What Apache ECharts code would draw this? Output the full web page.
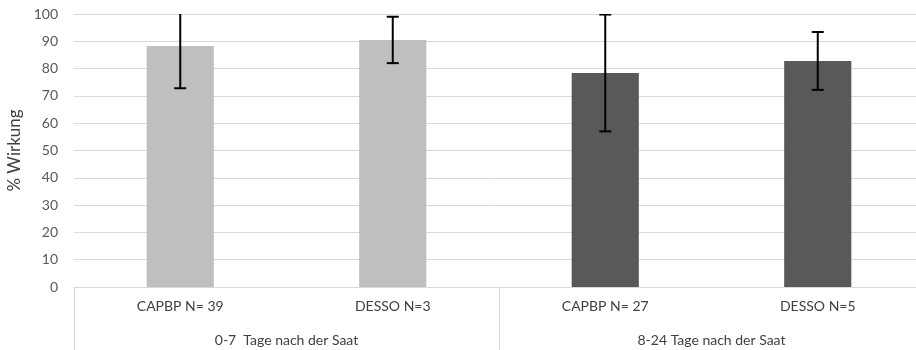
<!DOCTYPE html>
<html>
<head>
<meta charset="utf-8">
<script src="https://cdn.jsdelivr.net/npm/echarts@6/dist/echarts.min.js"></script>
<style>html,body{margin:0;padding:0;background:#fff;}#c{width:916px;height:350px;}</style>
</head>
<body>
<div id="c"></div>
<script>
const categories = ['CAPBP N= 39', 'DESSO N=3', 'CAPBP N= 27', 'DESSO N=5'];
const groups = ['0-7  Tage nach der Saat', '8-24 Tage nach der Saat'];
const groupOfCategory = [0, 0, 1, 1];
const values = [88.3, 90.5, 78.4, 82.8];
const errors = [15.5, 8.5, 21.4, 10.6];
const yTicks = { min: 0, max: 100, interval: 10 };
const axisName = '% Wirkung';

const groupColors = ['#bfbfbf', '#595959'];
const font = 'Lato, "Open Sans", sans-serif';

const chart = echarts.init(document.getElementById('c'));
chart.setOption({
  animation: false,
  grid: { left: 74, top: 14, width: 850, height: 273, containLabel: false, outerBoundsMode: 'none' },
  xAxis: [
    {
      type: 'category', data: categories, position: 'bottom',
      axisLine: { show: true, lineStyle: { color: '#d9d9d9', width: 1 } },
      axisTick: { show: false },
      axisLabel: { margin: 12, color: '#404040', fontSize: 14, fontFamily: font }
    },
    {
      type: 'category', data: groups, position: 'bottom', gridIndex: 0,
      axisLine: { show: false },
      axisTick: { show: true, length: 64, inside: false, lineStyle: { color: '#d9d9d9', width: 1 } },
      axisLabel: { margin: 46, color: '#404040', fontSize: 14, fontFamily: font }
    }
  ],
  yAxis: {
    type: 'value', min: yTicks.min, max: yTicks.max, interval: yTicks.interval,
    name: axisName, nameLocation: 'middle', nameRotate: 90, nameGap: 50,
    nameTextStyle: { color: '#404040', fontSize: 17, fontFamily: font },
    axisLine: { show: false }, axisTick: { show: false },
    axisLabel: { margin: 16, color: '#595959', fontSize: 14, fontFamily: font },
    splitLine: { lineStyle: { color: '#d9d9d9', width: 1 } }
  },
  series: [
    {
      type: 'bar', xAxisIndex: 0, data: values, barWidth: '31.6%',
      itemStyle: { color: p => groupColors[groupOfCategory[p.dataIndex]] }
    },
    {
      type: 'custom', xAxisIndex: 0, clip: true, z: 5,
      data: values.map((v, i) => [i, v - errors[i], v + errors[i]]),
      renderItem: (params, api) => {
        const x = api.value(0);
        const lo = api.coord([x, api.value(1)]);
        const hi = api.coord([x, api.value(2)]);
        const hw = 6;
        const st = { stroke: '#000', lineWidth: 2 };
        return {
          type: 'group',
          children: [
            { type: 'line', shape: { x1: lo[0], y1: lo[1], x2: hi[0], y2: hi[1] }, style: st },
            { type: 'line', shape: { x1: lo[0] - hw, y1: lo[1], x2: lo[0] + hw, y2: lo[1] }, style: st },
            { type: 'line', shape: { x1: hi[0] - hw, y1: hi[1], x2: hi[0] + hw, y2: hi[1] }, style: st }
          ]
        };
      }
    }
  ]
});
</script>
</body>
</html>
